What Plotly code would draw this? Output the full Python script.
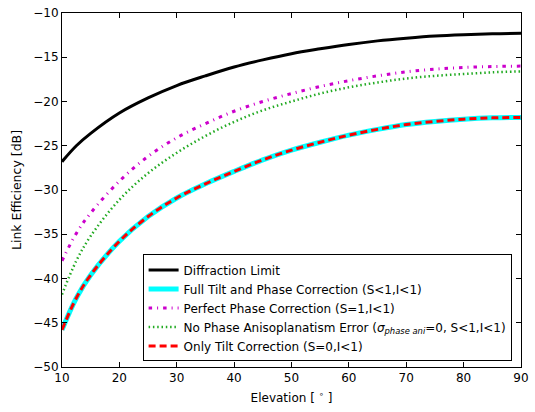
import plotly.graph_objects as go

elevation = [10, 12.5, 15, 20, 25, 30, 35, 40, 45, 50, 55, 60, 65, 70, 75, 80, 85, 90]

diffraction_limit = [-26.8, -25.0, -23.6, -21.3, -19.6, -18.2, -17.1, -16.1, -15.3,
                     -14.6, -14.05, -13.55, -13.15, -12.85, -12.6, -12.45, -12.35, -12.3]
full_tilt_phase = [-45.8, -42.2, -39.6, -35.8, -33.0, -30.9, -29.3, -27.9, -26.6,
                   -25.5, -24.6, -23.8, -23.15, -22.6, -22.25, -22.0, -21.85, -21.8]
perfect_phase = [-38.0, -34.9, -32.6, -29.0, -26.2, -24.1, -22.5, -21.1, -20.0,
                 -19.1, -18.3, -17.65, -17.1, -16.65, -16.35, -16.15, -16.05, -16.0]
no_phase_aniso = [-41.8, -38.0, -35.2, -31.1, -28.1, -25.8, -23.9, -22.3, -21.0,
                  -20.0, -19.1, -18.4, -17.85, -17.4, -17.1, -16.9, -16.7, -16.6]
only_tilt = [-45.8, -42.2, -39.6, -35.8, -33.0, -30.9, -29.3, -27.9, -26.6,
             -25.5, -24.6, -23.8, -23.15, -22.6, -22.25, -22.0, -21.85, -21.8]

x_ticks = [10, 20, 30, 40, 50, 60, 70, 80, 90]
y_ticks = [-50, -45, -40, -35, -30, -25, -20, -15, -10]

names = [
    "Diffraction Limit",
    "Full Tilt and Phase Correction (S<1,I<1)",
    "Perfect Phase Correction (S=1,I<1)",
    "No Phase Anisoplanatism Error (<i>σ</i><sub><i>phase ani</i></sub>=0, S<1,I<1)",
    "Only Tilt Correction (S=0,I<1)",
]
series = [diffraction_limit, full_tilt_phase, perfect_phase, no_phase_aniso, only_tilt]
styles = [
    dict(color="black", width=3, dash="solid"),
    dict(color="cyan", width=5, dash="solid"),
    dict(color="#cc00cc", width=3, dash="3.5px,5px,1px,5px"),
    dict(color="#22aa22", width=2.5, dash="1.5px,2.8px"),
    dict(color="red", width=3, dash="7px,4px"),
]

fig = go.Figure()
for name, ys, st in zip(names, series, styles):
    fig.add_trace(go.Scatter(
        x=elevation, y=ys, mode="lines", name=name,
        line=dict(shape="spline", smoothing=1.0, **st),
    ))

axis_common = dict(
    showline=True, linecolor="black", linewidth=1, mirror="ticks",
    ticks="inside", ticklen=5, tickcolor="black", showgrid=False, zeroline=False,
    ticklabeloverflow="allow",
    tickfont=dict(family="DejaVu Sans", size=12, color="black"),
)
fig.update_xaxes(range=[10, 90], tickvals=x_ticks,
                 title=dict(text="Elevation [ <sup>∘</sup> ]", standoff=9,
                            font=dict(family="DejaVu Sans", size=12, color="black")),
                 **axis_common)
fig.update_yaxes(range=[-50, -10], tickvals=y_ticks,
                 title=dict(text="Link Efficiency [dB]", standoff=8,
                            font=dict(family="DejaVu Sans", size=12.5, color="black")),
                 **axis_common)

fig.update_layout(
    width=535, height=412,
    margin=dict(l=62, r=6, t=7, b=45),
    paper_bgcolor="white", plot_bgcolor="white",
    font=dict(family="DejaVu Sans", size=12, color="black"),
    legend=dict(x=0.1756, y=0.318, xanchor="left", yanchor="top",
                bgcolor="white", bordercolor="black", borderwidth=1,
                font=dict(family="DejaVu Sans", size=12, color="black"),
                tracegroupgap=0),
)

fig.write_html("out.html")
